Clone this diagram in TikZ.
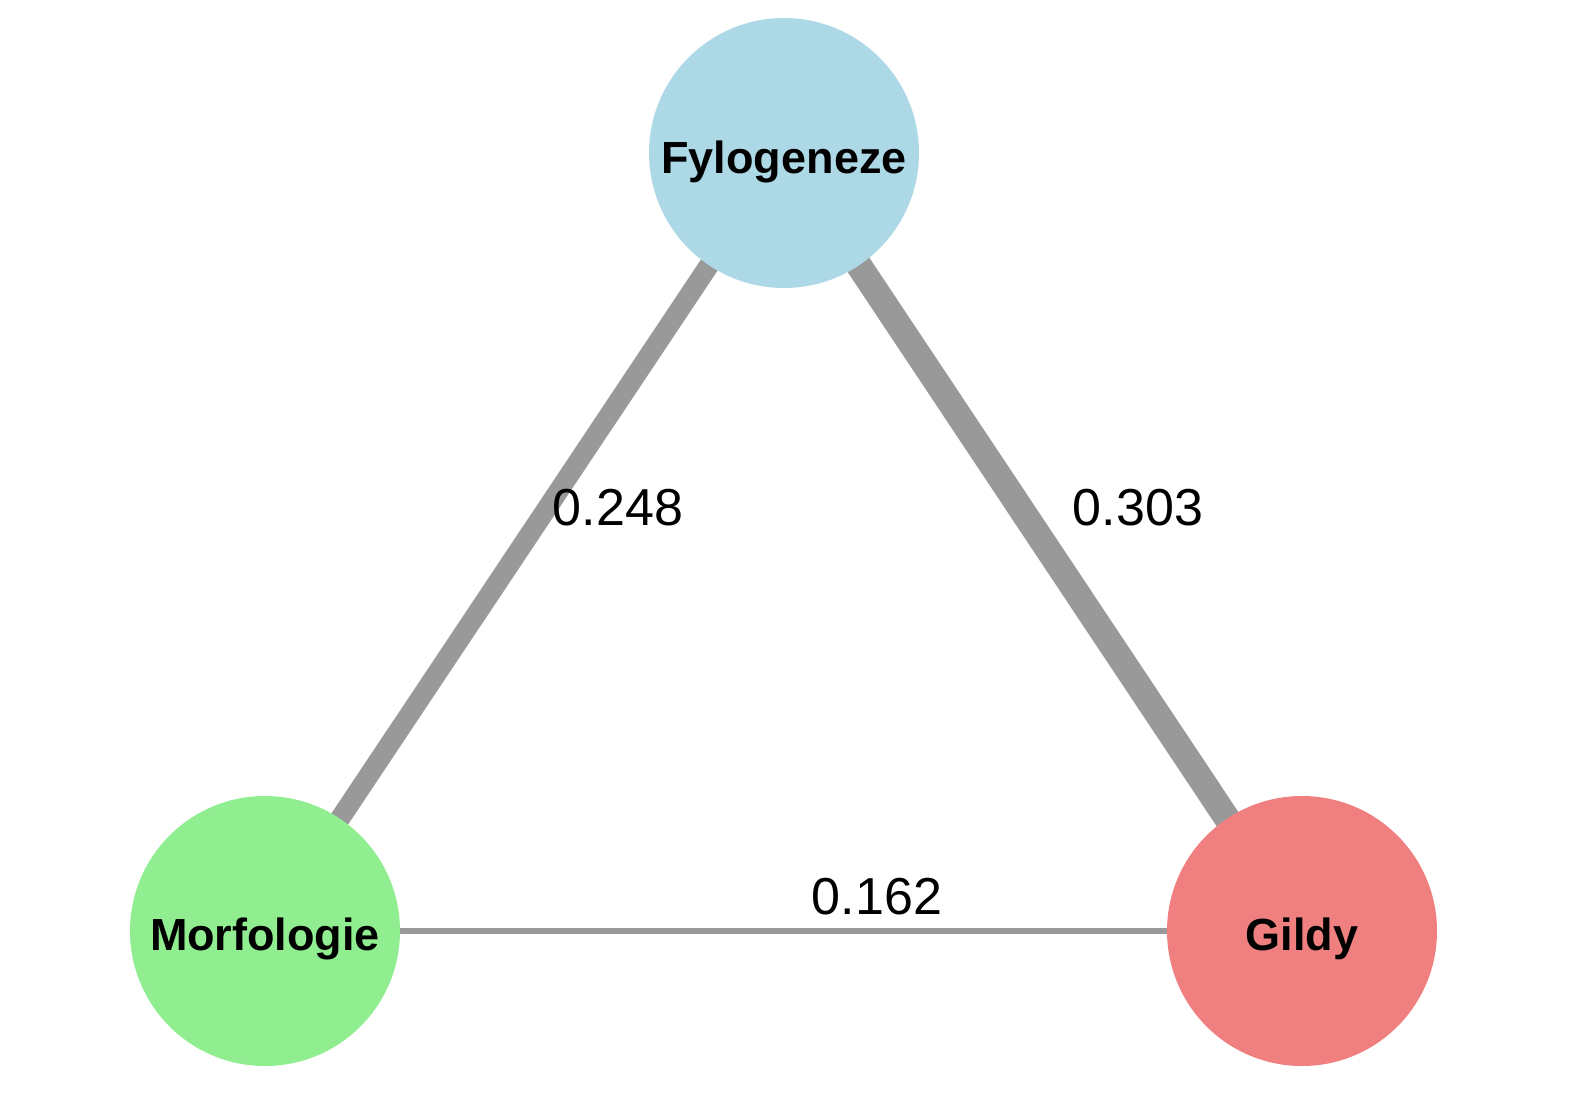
\documentclass[tikz,border=0pt]{standalone}
\usepackage{fontspec}
\setmainfont{Liberation Sans}
\definecolor{fyl}{HTML}{ADD8E6}
\definecolor{mor}{HTML}{90EE90}
\definecolor{gil}{HTML}{F08080}
\definecolor{edg}{HTML}{999999}
\begin{document}
\begin{tikzpicture}[x=1bp,y=-1bp,
  vert/.style={circle,minimum size=270bp,inner sep=0pt},
  vlabel/.style={anchor=base,font=\fontsize{45bp}{50bp}\selectfont\bfseries},
  elabel/.style={anchor=base,font=\fontsize{52bp}{58bp}\selectfont},
  edge/.style={draw=edg,line cap=butt}]
\useasboundingbox (0,0) rectangle (1575,1099);
\coordinate (cf) at (784,153);
\coordinate (cm) at (265,931);
\coordinate (cg) at (1302,931);
\draw[edge,line width=20bp] (cf) -- (cm);
\draw[edge,line width=26bp] (cf) -- (cg);
\draw[edge,line width=6bp] (cm) -- (cg);
\node[vert,fill=fyl] (f) at (cf) {};
\node[vert,fill=mor] (m) at (cm) {};
\node[vert,fill=gil] (g) at (cg) {};
\node[vlabel] (lf) at (784,173) {Fylogeneze};
\node[vlabel] (lm) at (265,950) {Morfologie};
\node[vlabel] (lg) at (1302,950) {Gildy};
\node[elabel] (e1) at (618,525) {0.248};
\node[elabel] (e2) at (1138,525) {0.303};
\node[elabel] (e3) at (877,914) {0.162};
\end{tikzpicture}
\end{document}
